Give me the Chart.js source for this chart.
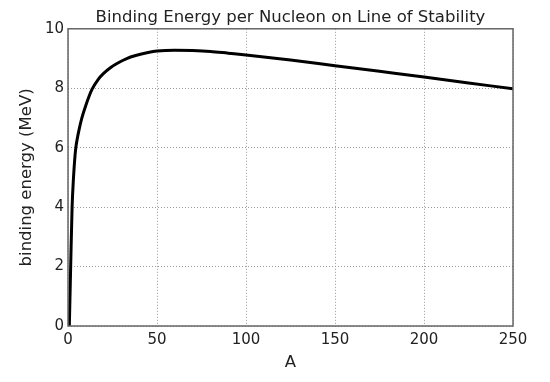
<!DOCTYPE html>
<html>
<head>
<meta charset="utf-8">
<script src="https://cdn.jsdelivr.net/npm/chart.js@4"></script>
<style>
  html, body { margin: 0; padding: 0; background: #fff; }
  #wrap { width: 550px; height: 382px; }
</style>
</head>
<body>
<div id="wrap"><canvas id="chart"></canvas></div>
<script>
// mass number A and binding energy per nucleon (MeV)
const massNumber = [0.75, 1.5, 2.3, 3.1, 3.7, 4.4, 5.2, 6.2, 7.8, 10, 13.4, 17, 20, 24, 28, 33, 38, 45, 50, 60, 70, 80, 90, 100, 125, 150, 175, 200, 225, 250];
const bindingEnergy = [0, 2, 4, 5.0, 5.55, 6.0, 6.3, 6.6, 7.0, 7.42, 7.95, 8.3, 8.5, 8.7, 8.85, 9.0, 9.1, 9.2, 9.25, 9.28, 9.27, 9.24, 9.18, 9.12, 8.95, 8.76, 8.57, 8.38, 8.18, 7.98];
const xTicks = [0, 50, 100, 150, 200, 250];
const yTicks = [0, 2, 4, 6, 8, 10];

const points = massNumber.map((a, i) => ({ x: a, y: bindingEnergy[i] }));

Chart.defaults.font.family = "'DejaVu Sans', sans-serif";
Chart.defaults.color = "#222";

// matplotlib style box round the plot
const frame = {
  id: "frame",
  afterDraw(chart) {
    const { ctx, chartArea: c } = chart;
    ctx.save();
    ctx.strokeStyle = "#666";
    ctx.lineWidth = 1.5;
    ctx.strokeRect(c.left, c.top, c.right - c.left, c.bottom - c.top);
    ctx.restore();
  }
};

const gridStyle = {
  color: "#999",
  lineWidth: 1,
  drawTicks: false
};

new Chart(document.getElementById("chart"), {
  type: "line",
  data: {
    datasets: [{
      data: points,
      borderColor: "#000",
      borderWidth: 3,
      pointRadius: 0,
      fill: false,
      cubicInterpolationMode: "monotone"
    }]
  },
  options: {
    responsive: true,
    maintainAspectRatio: false,
    animation: false,
    layout: { padding: { left: 0, right: 37, top: 0, bottom: 0 } },
    plugins: {
      legend: { display: false },
      tooltip: { enabled: false },
      title: {
        display: true,
        fullSize: false,
        text: "Binding Energy per Nucleon on Line of Stability",
        font: { size: 16.5, weight: "normal" },
        color: "#222",
        padding: { top: 8, bottom: 1 }
      }
    },
    scales: {
      x: {
        type: "linear",
        min: 0,
        max: 250,
        afterBuildTicks: (s) => { s.ticks = xTicks.map(v => ({ value: v })); },
        grid: gridStyle,
        border: { dash: [1, 2], display: false },
        ticks: { font: { size: 15 }, padding: 5, color: "#222" },
        title: { display: true, text: "A", font: { size: 16.5 }, color: "#222", padding: { top: 0, bottom: 9 } },
        afterFit: (s) => { s.height = 56; }
      },
      y: {
        min: 0,
        max: 10,
        afterBuildTicks: (s) => { s.ticks = yTicks.map(v => ({ value: v })); },
        grid: gridStyle,
        border: { dash: [1, 2], display: false },
        ticks: { font: { size: 15 }, padding: 4, color: "#222" },
        title: { display: true, text: "binding energy (MeV)", font: { size: 16.5 }, color: "#222", padding: { top: 17, bottom: 0 } },
        afterFit: (s) => { s.width = 68; }
      }
    }
  },
  plugins: [frame]
});
</script>
</body>
</html>
